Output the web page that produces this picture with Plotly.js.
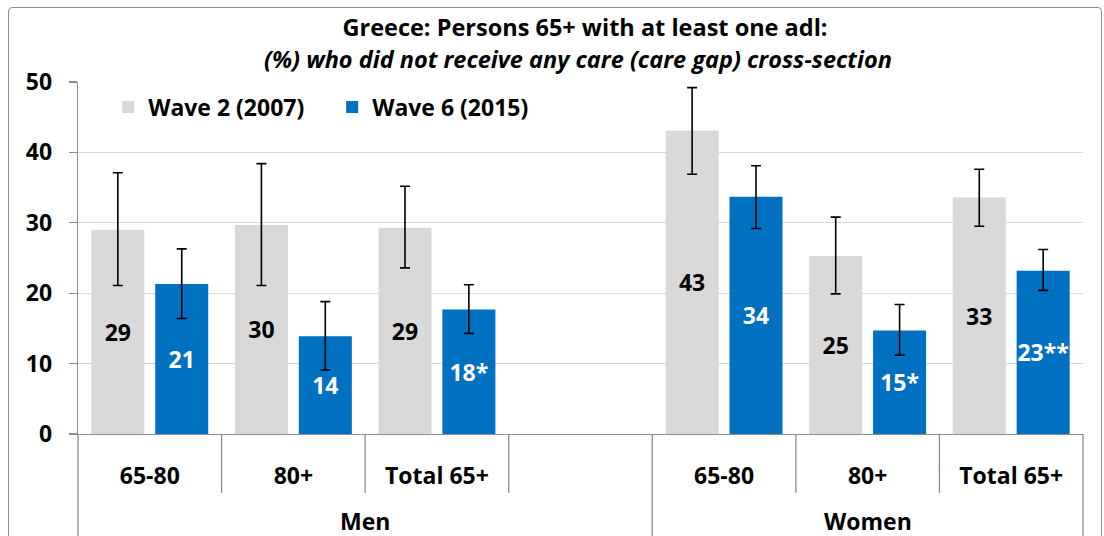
<!DOCTYPE html>
<html>
<head>
<meta charset="utf-8">
<script src="https://cdn.plot.ly/plotly-3.0.1.min.js"></script>
<style>
  html, body { margin: 0; padding: 0; background: #fff; }
  #wrap { position: relative; width: 1104px; height: 536px; overflow: hidden; }
  #chart { position: absolute; left: 0; top: 0; width: 1104px; height: 536px; }
  #frame { position: absolute; left: 8px; top: 7px; width: 1092px; height: 560px;
           border: 1px solid #8c8c8c; border-radius: 4px; pointer-events: none; }
</style>
</head>
<body>
<div id="wrap">
  <div id="chart"></div>
  <div id="frame"></div>
</div>
<script>
// ---- data ----
const groups = ["Men", "Men", "Men", "Men", "Women", "Women", "Women"];
const ageGroups = ["65-80", "80+", "Total 65+", "", "65-80", "80+", "Total 65+"];

const wave2Name = "Wave 2 (2007)";
const wave6Name = "Wave 6 (2015)";

const wave2 = [29.0, 29.7, 29.3, null, 43.1, 25.3, 33.6];
const wave2High = [37.1, 38.4, 35.2, null, 49.2, 30.8, 37.6];
const wave2Low = [21.1, 21.1, 23.6, null, 36.9, 19.9, 29.5];
const wave2Labels = ["29", "30", "29", "", "43", "25", "33"];

const wave6 = [21.3, 13.9, 17.7, null, 33.7, 14.7, 23.2];
const wave6High = [26.3, 18.8, 21.2, null, 38.1, 18.4, 26.2];
const wave6Low = [16.4, 9.1, 14.3, null, 29.2, 11.2, 20.4];
const wave6Labels = ["21", "14", "18*", "", "34", "15*", "23**"];

const yTicks = [0, 10, 20, 30, 40, 50];

const titleLine1 = "Greece: Persons 65+ with at least one adl:";
const titleLine2 = "(%) who did not receive any care (care gap) cross-section";

// ---- derived ----
const catKeys = groups.map((g, i) => g + "|" + i);          // unique category keys
const up = (v, h) => v.map((x, i) => (x == null ? null : h[i] - x));
const down = (v, l) => v.map((x, i) => (x == null ? null : x - l[i]));

const FONT = "'Open Sans', sans-serif";
const FS = 23;
const FT = 23.5;
const GRAY = "#d9d9d9";
const BLUE = "#0070c0";
const LINE = "#8c8c8c";

const M = { l: 78, r: 21, t: 81.5, b: 101.5 };
const plotH = 536 - M.t - M.b;
const pyToPaper = (py) => (536 - M.b - py) / plotH;

const traces = [
  {
    type: "bar", name: wave2Name, x: catKeys, y: wave2,
    marker: { color: GRAY },
    text: wave2Labels, textposition: "inside", insidetextanchor: "middle",
    textangle: 0, constraintext: "none",
    textfont: { family: FONT, size: FS, weight: "bold", color: "#000" },
    error_y: { type: "data", symmetric: false, array: up(wave2, wave2High),
               arrayminus: down(wave2, wave2Low), color: "#000", thickness: 1.6, width: 5 },
    hoverinfo: "skip"
  },
  {
    type: "bar", name: wave6Name, x: catKeys, y: wave6,
    marker: { color: BLUE },
    text: wave6Labels, textposition: "inside", insidetextanchor: "middle",
    textangle: 0, constraintext: "none",
    textfont: { family: FONT, size: FS, weight: "bold", color: "#fff" },
    error_y: { type: "data", symmetric: false, array: up(wave6, wave6High),
               arrayminus: down(wave6, wave6Low), color: "#000", thickness: 1.6, width: 5 },
    hoverinfo: "skip"
  }
];

// separators below the category axis (layout decoration)
const nCats = ageGroups.length;
const shapes = [];
for (let k = 0; k <= nCats; k++) {
  const outer = (k === 0 || k === nCats || groups[k] !== groups[k - 1]);
  shapes.push({
    type: "line", xref: "paper", yref: "paper",
    x0: k / nCats, x1: k / nCats,
    y0: 0, y1: outer ? -110 / plotH : -59 / plotH,
    line: { color: LINE, width: 1.3 }
  });
}

// group labels (Men / Women) centred under their categories
const annotations = [];
[...new Set(groups)].forEach((g) => {
  const idx = groups.map((x, i) => (x === g ? i : -1)).filter((i) => i >= 0);
  const centre = (idx[0] + idx[idx.length - 1]) / 2;
  annotations.push({
    text: "<b>" + g + "</b>", xref: "x", yref: "paper",
    x: centre, y: pyToPaper(522), xanchor: "center", yanchor: "middle",
    showarrow: false, font: { family: FONT, size: FS, color: "#000" }
  });
});
// subtitle line
annotations.push({
  text: "<b><i>" + titleLine2 + "</i></b>", xref: "paper", yref: "paper",
  x: (578 - M.l) / (1104 - M.l - M.r), y: pyToPaper(58), xanchor: "center", yanchor: "middle",
  showarrow: false, font: { family: FONT, size: FT, color: "#000" }
});

const layout = {
  width: 1104, height: 536,
  margin: M,
  paper_bgcolor: "#fff", plot_bgcolor: "#fff",
  font: { family: FONT, size: FS, color: "#000" },
  title: {
    text: "<b>" + titleLine1 + "</b>",
    x: 585 / 1104, xanchor: "center", xref: "container",
    y: 1 - 28 / 536, yanchor: "middle", yref: "container",
    font: { family: FONT, size: FT, color: "#000" }
  },
  barmode: "group", bargap: 0.11, bargroupgap: 0.17,
  showlegend: true,
  legend: {
    orientation: "h", x: 0.030, xanchor: "left", y: 0.99, yanchor: "top",
    font: { family: FONT, size: FS, color: "#000", weight: "bold" },
    bgcolor: "rgba(0,0,0,0)", entrywidth: 179, traceorder: "normal"
  },
  xaxis: {
    type: "category",
    tickvals: catKeys, ticktext: ageGroups.map((t) => "<b>" + t + "</b>"),
    showline: true, linecolor: LINE, linewidth: 1.3,
    ticks: "", ticklabelstandoff: 21,
    tickfont: { family: FONT, size: FS, color: "#000" },
    showgrid: false, zeroline: false, fixedrange: true
  },
  yaxis: {
    range: [0, 50], tickvals: yTicks, ticktext: yTicks.map((t) => "<b>" + t + "</b>"),
    showline: true, linecolor: LINE, linewidth: 1.3,
    ticks: "outside", ticklen: 8, tickcolor: LINE, tickwidth: 1.3,
    ticklabelstandoff: 12,
    showgrid: true, gridcolor: GRAY, gridwidth: 1.3, zeroline: false,
    tickfont: { family: FONT, size: FS, color: "#000" },
    fixedrange: true
  },
  shapes: shapes,
  annotations: annotations
};

Plotly.newPlot("chart", traces, layout, { displayModeBar: false, staticPlot: true });
</script>
</body>
</html>
